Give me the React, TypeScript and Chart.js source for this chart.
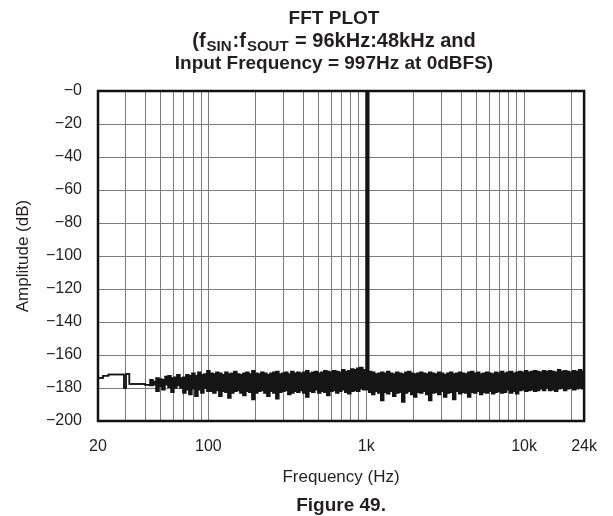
import React, { useEffect, useRef } from 'react';
import { Chart, registerables } from 'chart.js';

Chart.register(...registerables);

// ---- Data ----
const FREQ_HZ = [
  20, 21.5, 23.3, 29.2, 30.1, 31.6, 39.7,
  42.7, 44.6, 46.6, 48.7, 50.8, 53.1, 55.5, 58, 60.5, 63.2, 66.1, 69, 72.1, 75.3, 78.7, 82.2, 85.9, 89.7, 93.7, 97.9,
  102.3, 106.9, 111.6, 116.6, 121.8, 127.3, 133, 138.9, 145.1, 151.6,
  158.4, 165.5, 172.9, 180.6, 188.7, 197.1, 205.9, 215.1, 224.7, 234.8,
  245.3, 256.2, 267.7, 279.6, 292.1, 305.2, 318.8, 333.1, 348, 363.5,
  379.8, 396.7, 414.5, 433, 452.3, 472.5, 493.7, 515.7, 538.8, 562.8,
  588, 614.3, 641.7, 670.4, 700.4, 731.7, 764.4, 798.5, 834.2, 871.5,
  910.4, 951.1,
  997,
  1038, 1084, 1133, 1183, 1236, 1291, 1349, 1409, 1472, 1538,
  1607, 1679, 1754, 1832, 1914, 2000, 2089, 2182, 2280, 2382,
  2488, 2599, 2715, 2837, 2963, 3096, 3234, 3379, 3530, 3688,
  3852, 4025, 4204, 4392, 4589, 4794, 5008, 5232, 5466, 5710,
  5965, 6232, 6510, 6801, 7105, 7423, 7755, 8101, 8463, 8842,
  9237, 9649, 10080, 10531, 11002, 11494, 12007, 12544, 13105, 13691,
  14303, 14942, 15610, 16308, 17037, 17799, 18595, 19426, 20294, 21202,
  22150, 23140, 24000,
];

// upper edge of the plotted trace (dB)
const UPPER_DB = [
  -174, -172.5, -171.8, -180, -171.5, -177.5, -178,
  -175, -176, -174, -174.5, -175, -173, -172.5, -174, -173.5, -172, -174, -173.5, -172, -172.5, -171, -172.5, -170.5, -172, -171.5, -169.5,
  -171, -171.5, -170.5, -171, -172, -170.5, -171.5, -171, -170, -171.5,
  -172, -171, -170.5, -171.5, -169.5, -171, -171.5, -170.5, -171, -172,
  -171, -170.5, -170, -171.5, -171, -170.5, -171.5, -170, -171, -170.5,
  -171, -170.5, -169.5, -171, -170.5, -170, -171, -170.5, -169.5, -170,
  -170.5, -169.5, -170, -170.5, -169, -170, -169.5, -168.5, -169, -168,
  -167.5, -169,
  0,
  -170, -170.5, -171.5, -171, -170.5, -171, -170, -171, -171.5, -170.5,
  -171, -171.5, -170.5, -170, -171, -171.5, -171, -170.5, -171, -171.5,
  -170.5, -171, -171.5, -170.5, -171, -172, -171, -170.5, -171.5, -171,
  -170.5, -171, -171.5, -170.5, -170, -171, -170.5, -171.5, -171, -170.5,
  -171, -171.5, -170.5, -171, -170, -171, -170.5, -170, -171, -170.5,
  -170, -170.5, -169.5, -170.5, -170, -169.5, -170, -170.5, -169.5, -170,
  -169.5, -170, -170.5, -169, -170, -169.5, -170, -170.5, -169.5, -170,
  -169, -170, -169.5,
];

// lower edge of the plotted trace (dB)
const LOWER_DB = [
  -174, -172.5, -171.8, -180, -171.5, -177.5, -178,
  -178.5, -178, -182, -179, -181, -178, -179.5, -182.5, -180, -178.5, -180, -183, -181, -184, -180.5, -185, -181, -183, -180, -182,
  -182, -183, -181.5, -185, -182, -182.5, -186, -183, -182, -181.5,
  -183, -184.5, -182, -182.5, -187, -183, -182, -181.5, -183, -185,
  -182, -183, -186.5, -182.5, -182, -181.5, -184, -183, -182, -182.5,
  -181.5, -183, -185.5, -182, -182.5, -181, -183, -182, -182.5, -184.5,
  -182, -181.5, -183, -182, -181, -182.5, -183.5, -182, -181.5, -182,
  -180.5, -181,
  -181,
  -182.5, -184, -182, -183, -187.5, -182.5, -183.5, -182, -185, -183,
  -182.5, -188.5, -183, -182, -184, -185.5, -182.5, -183, -182, -184,
  -187.5, -183, -182.5, -184, -182, -185.5, -183, -182.5, -187, -182,
  -183.5, -182.5, -183, -185.5, -182.5, -183, -182, -184, -182.5, -183,
  -182, -183.5, -182.5, -182, -183, -182.5, -181, -183, -182, -183.5,
  -181.5, -181, -182, -181.5, -181, -182, -181.5, -180.5, -181.5, -180,
  -181.5, -181, -182, -180.5, -180, -181.5, -180.5, -180, -181, -180.5,
  -180, -180.5, -180.5,
];

const X_GRID_HZ = [
  20, 30, 40, 50, 60, 70, 80, 90,
  100, 200, 300, 400, 500, 600, 700, 800, 900,
  1000, 2000, 3000, 4000, 5000, 6000, 7000, 8000, 9000,
  10000, 20000, 24000,
];
const X_LABELED_HZ = [20, 100, 1000, 10000, 24000];
const X_LABELS = ['20', '100', '1k', '10k', '24k'];

const Y_TICKS = [0, -20, -40, -60, -80, -100, -120, -140, -160, -180, -200];
const Y_LABELS = ['−0', '−20', '−40', '−60', '−80', '−100', '−120', '−140', '−160', '−180', '−200'];

const TITLE_LINE1 = 'FFT PLOT';
const TITLE_LINE2_PARTS: Array<[string, boolean]> = [
  ['(f', false], ['SIN', true], [':f', false], ['SOUT', true], [' = 96kHz:48kHz and', false],
];
const TITLE_LINE3 = 'Input Frequency = 997Hz at 0dBFS)';
const CAPTION = 'Figure 49.';
const X_TITLE = 'Frequency (Hz)';
const Y_TITLE = 'Amplitude (dB)';

const FONT = "'Liberation Sans', Arial, Helvetica, sans-serif";
const TEXT = '#231f20';
const GRID = '#7c7c7c';
const TRACE = '#151515';

const textPlugin = {
  id: 'figureText',
  afterDraw(chart: any) {
    const ctx = chart.ctx as CanvasRenderingContext2D;
    const cx = 334;
    ctx.save();
    ctx.fillStyle = TEXT;
    ctx.textBaseline = 'alphabetic';
    ctx.textAlign = 'center';
    ctx.font = `bold 19px ${FONT}`;
    ctx.fillText(TITLE_LINE1, cx, 24);
    ctx.fillText(TITLE_LINE3, cx, 69);
    // line 2 with subscripts
    const big = `bold 20px ${FONT}`;
    const small = `bold 15px ${FONT}`;
    const gap = 1;
    let total = 0;
    for (const [t, sub] of TITLE_LINE2_PARTS) {
      ctx.font = sub ? small : big;
      total += ctx.measureText(t).width + (sub ? gap * 2 : 0);
    }
    let x = cx - total / 2;
    ctx.textAlign = 'left';
    for (const [t, sub] of TITLE_LINE2_PARTS) {
      ctx.font = sub ? small : big;
      if (sub) x += gap;
      ctx.fillText(t, x, sub ? 50.5 : 46.5);
      x += ctx.measureText(t).width + (sub ? gap : 0);
    }
    ctx.textAlign = 'center';
    ctx.font = `bold 19px ${FONT}`;
    const a = chart.chartArea;
    ctx.fillText(CAPTION, (a.left + a.right) / 2, 511);
    ctx.restore();
  },
  afterDatasetsDraw(chart: any) {
    const ctx = chart.ctx as CanvasRenderingContext2D;
    const a = chart.chartArea;
    ctx.save();
    ctx.strokeStyle = '#111';
    ctx.lineWidth = 2.5;
    ctx.strokeRect(a.left, a.top, a.right - a.left, a.bottom - a.top);
    ctx.restore();
  },
};

export default function App() {
  const ref = useRef<HTMLCanvasElement | null>(null);

  useEffect(() => {
    if (!ref.current) return;
    const upper = FREQ_HZ.map((f, i) => ({ x: f, y: UPPER_DB[i] }));
    const lower = FREQ_HZ.map((f, i) => ({ x: f, y: LOWER_DB[i] }));
    const chart = new Chart(ref.current, {
      type: 'line',
      data: {
        datasets: [
          {
            label: 'upper',
            data: upper,
            stepped: 'before',
            borderColor: TRACE,
            backgroundColor: TRACE,
            borderWidth: 1.5,
            pointRadius: 0,
            fill: '+1',
          },
          {
            label: 'lower',
            data: lower,
            stepped: 'before',
            borderColor: TRACE,
            borderWidth: 1.5,
            pointRadius: 0,
            fill: false,
          },
        ],
      },
      options: {
        responsive: false,
        animation: false,
        parsing: false as any,
        layout: { padding: { top: 91, right: 28, left: 0, bottom: 0 } },
        plugins: {
          legend: { display: false },
          title: { display: false },
          tooltip: { enabled: false },
        },
        scales: {
          x: {
            type: 'logarithmic',
            min: 20,
            max: 24000,
            afterBuildTicks: (s: any) => {
              s.ticks = X_GRID_HZ.map((v) => ({ value: v }));
            },
            afterFit: (s: any) => {
              s.height = 95;
            },
            ticks: {
              autoSkip: false,
              maxRotation: 0,
              minRotation: 0,
              padding: 16,
              color: TEXT,
              font: { family: FONT, size: 16 },
              callback: (v: any) => {
                const i = X_LABELED_HZ.indexOf(Number(v));
                return i >= 0 ? X_LABELS[i] : '';
              },
            },
            grid: { color: GRID, lineWidth: 1, drawTicks: false },
            border: { display: false },
            title: {
              display: true,
              text: X_TITLE,
              color: TEXT,
              font: { family: FONT, size: 17 },
              padding: { top: 0, bottom: 28 },
            },
          },
          y: {
            type: 'linear',
            min: -200,
            max: 0,
            afterBuildTicks: (s: any) => {
              s.ticks = Y_TICKS.map((v) => ({ value: v }));
            },
            afterFit: (s: any) => {
              s.width = 98;
            },
            ticks: {
              padding: 16,
              color: TEXT,
              font: { family: FONT, size: 16 },
              callback: (v: any) => {
                const i = Y_TICKS.indexOf(Number(v));
                return i >= 0 ? Y_LABELS[i] : '';
              },
            },
            grid: { color: GRID, lineWidth: 1, drawTicks: false },
            border: { display: false },
            title: {
              display: true,
              text: Y_TITLE,
              color: TEXT,
              font: { family: FONT, size: 17 },
              padding: { top: 13, bottom: 0 },
            },
          },
        },
      },
      plugins: [textPlugin],
    });
    return () => chart.destroy();
  }, []);

  return (
    <div style={{ position: 'absolute', left: 0, top: 0, width: 613, height: 516, background: '#fff' }}>
      <canvas ref={ref} width={613} height={516} style={{ display: 'block' }} />
    </div>
  );
}
